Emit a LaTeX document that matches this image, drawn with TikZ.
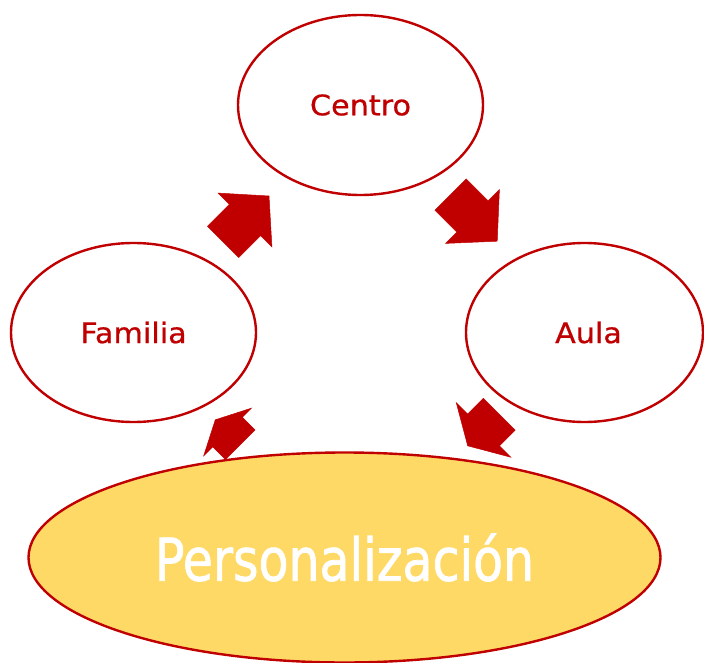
\documentclass[tikz,border=0pt]{standalone}
\usepackage{fontspec}
\setmainfont{DejaVu Sans}
\newfontfamily\labelfont[FakeBold=0.6]{DejaVu Sans}
\newfontfamily\bigfont[FakeBold=1.4]{DejaVu Sans}
\usetikzlibrary{shapes.geometric}
\definecolor{dred}{HTML}{C00000}
\definecolor{gold}{HTML}{FFD966}
\newcommand{\wideS}[1]{\scalebox{1.12}[1.05]{#1}}
\newcommand{\wideB}[1]{\scalebox{0.83}[1]{#1}}
\tikzset{
  oval/.style={ellipse, draw=dred, line width=2.4pt, fill=white, inner sep=0pt},
  smalllabel/.style={text=dred, font=\labelfont\fontsize{27}{30}\selectfont},
  biglabel/.style={text=white, font=\bigfont\fontsize{59}{64}\selectfont},
  blockarrow/.style={fill=dred, draw=dred, line width=0.5pt, line join=miter},
}
\begin{document}
\begin{tikzpicture}[x=1pt, y=-1pt]
\useasboundingbox (0,0) rectangle (704,663);
\node[oval, smalllabel, minimum width=245pt, minimum height=180pt] (centro) at (360.5,105) {\wideS{Centro}};
\node[oval, smalllabel, minimum width=245pt, minimum height=179pt] (familia) at (133.5,332.5) {\wideS{Familia}};
\node[oval, smalllabel, minimum width=237pt, minimum height=179pt] (aula) at (584.5,332.5) {\hspace*{8pt}\wideS{Aula}};
% block arrows
\fill[blockarrow] (269,196) -- (271.9,246.9) -- (260.6,235.6) -- (238.7,257.5) -- (207.5,226.3) -- (229.4,204.4) -- (218.1,193.1) -- cycle;
\fill[blockarrow] (497.2,241.2) -- (499.4,189.6) -- (488.1,200.9) -- (466.2,179.0) -- (435.0,210.2) -- (456.9,232.1) -- (445.6,243.4) -- cycle;
\fill[blockarrow] (215.3,419.8) -- (251.3,408.2) -- (242.3,417.2) -- (255.0,429.9) -- (225.4,459.5) -- (212.7,446.8) -- (203.7,455.8) -- cycle;
\fill[blockarrow] (467.7,445.8) -- (510.7,457.2) -- (499.4,445.9) -- (515.2,430.1) -- (483.4,398.3) -- (467.6,414.1) -- (456.3,402.8) -- cycle;
\node[oval, fill=gold, biglabel, minimum width=632pt, minimum height=210pt] (pers) at (344.5,557.5) {\wideB{Personalización}};
\end{tikzpicture}
\end{document}
